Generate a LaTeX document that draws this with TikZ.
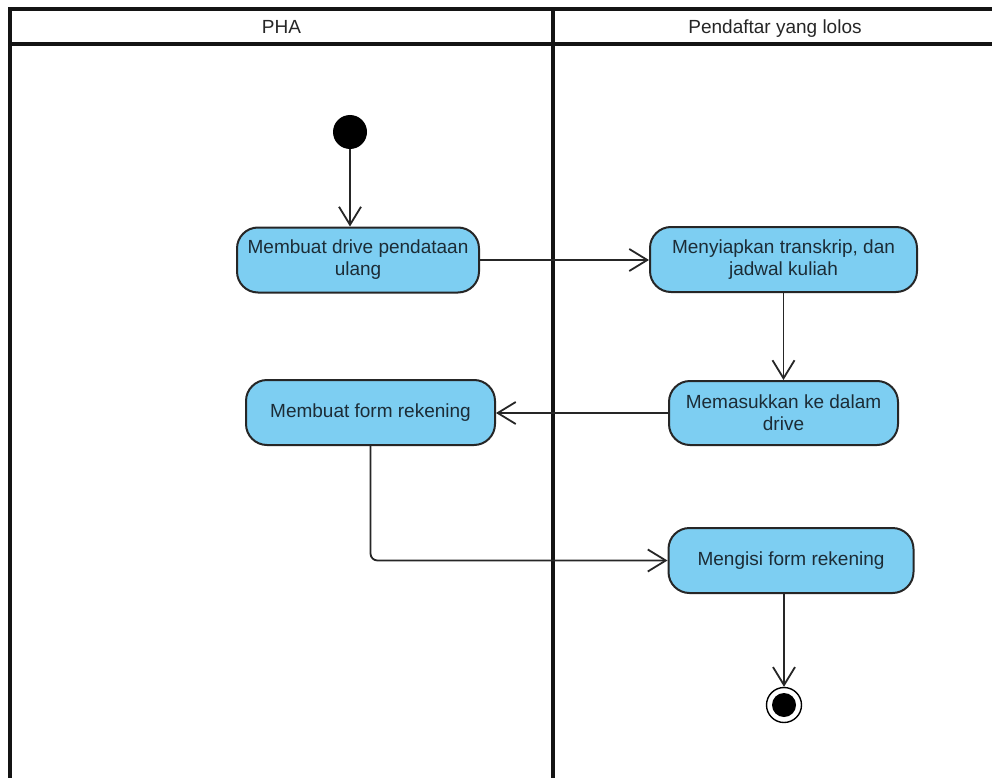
\documentclass[tikz,border=0pt]{standalone}
\usepackage{fontspec}
\setmainfont{Liberation Sans}
\usetikzlibrary{arrows.meta}
\definecolor{actfill}{RGB}{125,206,242}
\definecolor{acttext}{RGB}{28,44,54}
\definecolor{lanecol}{RGB}{20,20,20}
\tikzset{
  lane/.style={draw=lanecol, line width=3.2pt},
  action/.style={draw=black!85, line width=2pt, fill=actfill, rounded corners=21pt,
    inner sep=0pt, align=center, text=acttext,
    font=\fontsize{19}{22}\selectfont},
  flow/.style={draw=black!85, line width=1.8pt,
    -{Straight Barb[length=18pt, width=22pt, line width=1.8pt]}},
  startnode/.style={circle, fill=black, minimum size=34pt, inner sep=0pt},
  endnode/.style={circle, draw=black, line width=1.4pt, fill=white, minimum size=35pt, inner sep=0pt},
  lanetitle/.style={font=\fontsize{19}{22}\selectfont, text=black!85, anchor=base, inner sep=0pt}
}
\begin{document}
\begin{tikzpicture}[x=1pt, y=-1pt]
  \useasboundingbox (0,0) rectangle (992,778);
  % swimlanes
  \fill[white] (0,0) rectangle (992,778);
  \draw[lane] (10,790) -- (10,9) -- (1000,9);
  \draw[lane] (10,44) -- (1000,44);
  \draw[lane] (553,9) -- (553,790);
  \node[lanetitle] (lanea) at (281.5,34) {PHA};
  \node[lanetitle] (laneb) at (775,34) {Pendaftar yang lolos};

  % activities
  \node[startnode] (start) at (350,132) {};
  \node[action, minimum width=242pt, minimum height=65pt] (n1) at (358,260)
    {Membuat drive pendataan\\ulang};
  \node[action, minimum width=267pt, minimum height=65pt] (n2) at (783.5,259.5)
    {Menyiapkan transkrip, dan\\jadwal kuliah};
  \node[action, minimum width=229pt, minimum height=64pt] (n3) at (783.5,413)
    {Memasukkan ke dalam\\drive};
  \node[action, minimum width=249pt, minimum height=65pt] (n4) at (370.5,412.5)
    {Membuat form rekening};
  \node[action, minimum width=245pt, minimum height=65pt] (n5) at (791,560.5)
    {Mengisi form rekening};
  \node[endnode] (end) at (784,705) {};
  \fill[black] (end.center) circle (12pt);

  % control flow
  \draw[flow] (start) -- (start |- n1.north);
  \draw[flow] (n1.east) -- (n2.west |- n1.east);
  \draw[flow] (n2.south -| n3.north) -- (n3.north);
  \draw[flow] (n3.west) -- (n4.east |- n3.west);
  \draw[flow, rounded corners=7pt] (n4.south) -- (n4.south |- n5.west) -- (n5.west);
  \draw[flow] (end |- n5.south) -- (end.north);
\end{tikzpicture}
\end{document}
